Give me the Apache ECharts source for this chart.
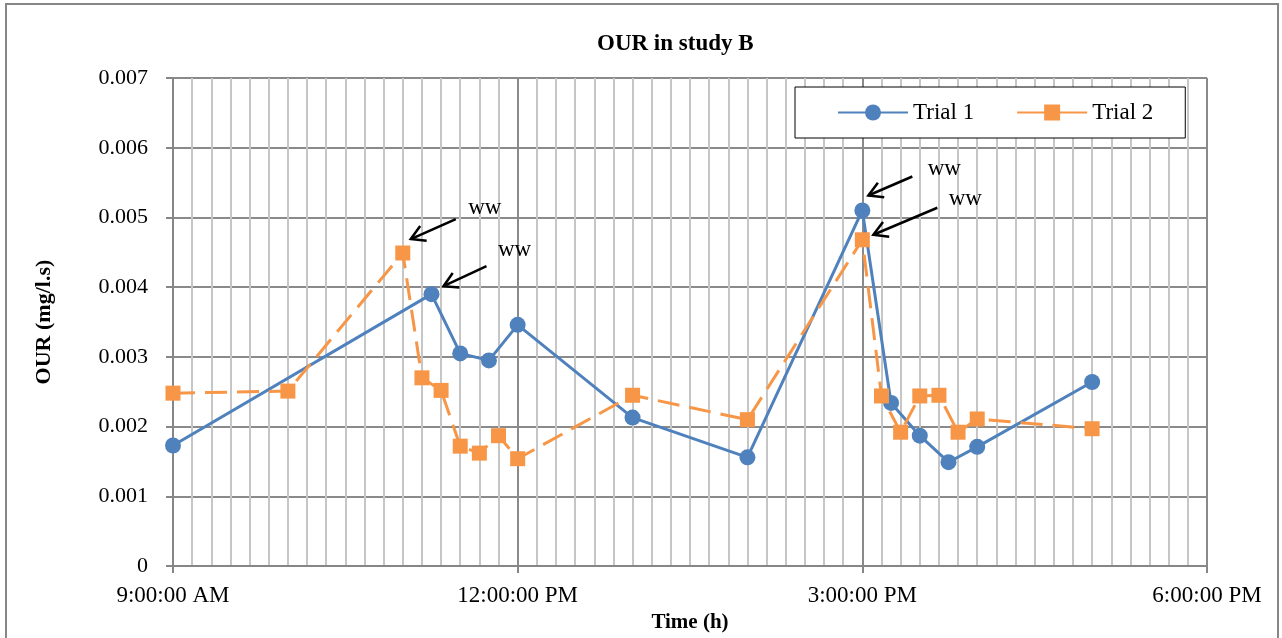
<!DOCTYPE html>
<html>
<head>
<meta charset="utf-8">
<script src="https://cdn.jsdelivr.net/npm/echarts@6/dist/echarts.min.js"></script>
<style>
html,body{margin:0;padding:0;background:#fff;}
#c{width:1282px;height:638px;}
</style>
</head>
<body>
<div id="c"></div>
<script>
// ---- data ----
const seriesNames = ['Trial 1', 'Trial 2'];
const trial1Times = ['9:00','11:15','11:30','11:45','12:00','13:00','14:00','15:00','15:15','15:30','15:45','16:00','17:00'];
const trial1Values = [0.00173,0.0039,0.00305,0.00295,0.00346,0.00213,0.00156,0.0051,0.00234,0.00187,0.00149,0.00171,0.00264];
const trial2Times = ['9:00','10:00','11:00','11:10','11:20','11:30','11:40','11:50','12:00','13:00','14:00','15:00','15:10','15:20','15:30','15:40','15:50','16:00','17:00'];
const trial2Values = [0.00248,0.00251,0.00449,0.0027,0.00252,0.00172,0.00162,0.00187,0.00154,0.00245,0.0021,0.00468,0.00244,0.00192,0.00244,0.00245,0.00192,0.00211,0.00197];
const xTickLabels = ['9:00:00 AM','12:00:00 PM','3:00:00 PM','6:00:00 PM'];
const yTickLabels = ['0','0.001','0.002','0.003','0.004','0.005','0.006','0.007'];
const annotationTexts = ['ww','ww','ww','ww'];
const annotationTargets = [[1,2],[0,1],[0,7],[1,11]]; // [series, point index]

// ---- styling (annotation offsets in px relative to the marked point) ----
const annotationOffsets = [
  {head:[8,-14], tail:[53,-34], text:[82,-45]},
  {head:[12,-8], tail:[55,-28], text:[83,-44]},
  {head:[6,-15], tail:[50,-34], text:[82,-42]},
  {head:[11,-5], tail:[75,-32], text:[103,-41]}
];

const FONT = '"Liberation Serif","Times New Roman",serif';
function toMin(s){ const p = s.split(':').map(Number); return p[0]*60 + p[1]; }
const s1 = trial1Times.map((t,i)=>[toMin(t), trial1Values[i]]);
const s2 = trial2Times.map((t,i)=>[toMin(t), trial2Values[i]]);
const allData = [s1, s2];

const chart = echarts.init(document.getElementById('c'), null, {renderer:'canvas'});
const option = {
  backgroundColor: '#ffffff',
  animation: false,
  title: {
    text: 'OUR in study B',
    left: 592, top: 28,
    textStyle: {fontFamily: FONT, fontWeight: 'bold', fontSize: 23, color: '#000'}
  },
  legend: {
    left: 795, top: 87,
    orient: 'horizontal',
    backgroundColor: '#fff',
    borderColor: '#000',
    borderWidth: 1,
    padding: [14, 32, 14, 42],
    itemGap: 42,
    itemWidth: 70,
    itemHeight: 20,
    lineStyle: {type: 'solid'},
    textStyle: {fontFamily: FONT, fontSize: 23, color: '#000'},
    data: seriesNames
  },
  grid: {left: 173, right: 75, top: 78, bottom: 66, containLabel: false},
  xAxis: {
    type: 'value',
    min: 540, max: 1080, interval: 180,
    name: 'Time (h)',
    nameLocation: 'middle',
    nameGap: 43,
    nameTextStyle: {fontFamily: FONT, fontWeight: 'bold', fontSize: 21, color: '#000'},
    axisLine: {show: true, onZero: false, lineStyle: {color: '#868686', width: 2}},
    axisTick: {show: true, length: 7, lineStyle: {color: '#868686', width: 2}},
    minorTick: {show: false, splitNumber: 18},
    minorSplitLine: {show: true, lineStyle: {color: '#C6C6C6', width: 2}},
    splitLine: {show: true, lineStyle: {color: '#8A8A8A', width: 2}},
    axisLabel: {
      margin: 18,
      fontFamily: FONT, fontSize: 23, color: '#000',
      formatter: v => xTickLabels[Math.round((v-540)/180)] || ''
    }
  },
  yAxis: {
    type: 'value',
    min: 0, max: 0.007, interval: 0.001,
    name: 'OUR (mg/l.s)',
    nameLocation: 'middle',
    nameRotate: 90,
    nameGap: 118,
    nameTextStyle: {fontFamily: FONT, fontWeight: 'bold', fontSize: 22, color: '#000'},
    axisLine: {show: true, lineStyle: {color: '#868686', width: 2}},
    axisTick: {show: true, inside: false, length: 7, lineStyle: {color: '#868686', width: 2}},
    splitLine: {show: true, lineStyle: {color: '#8A8A8A', width: 2}},
    axisLabel: {
      margin: 25,
      fontFamily: FONT, fontSize: 22, color: '#000',
      formatter: v => yTickLabels[Math.round(v/0.001)] || ''
    }
  },
  series: [
    {
      name: seriesNames[0], type: 'line', data: s1,
      symbol: 'circle', symbolSize: 16,
      lineStyle: {color: '#4F81BD', width: 3},
      itemStyle: {color: '#4F81BD'},
      z: 3
    },
    {
      name: seriesNames[1], type: 'line', data: s2,
      symbol: 'rect', symbolSize: 15,
      lineStyle: {color: '#F79646', width: 3, type: [22, 10]},
      itemStyle: {color: '#F79646'},
      z: 4
    }
  ],
  graphic: []
};
chart.setOption(option);

// ---- annotations anchored to data points via the chart's own scales ----
const g = [{
  type: 'rect', silent: true, z: 0,
  shape: {x: 6, y: 4, width: 1272, height: 650},
  style: {fill: 'none', stroke: '#878787', lineWidth: 2}
}];
annotationTargets.forEach((tg, k) => {
  const pt = allData[tg[0]][tg[1]];
  const p = chart.convertToPixel({gridIndex: 0}, pt);
  const o = annotationOffsets[k];
  const hx = p[0] + o.head[0], hy = p[1] + o.head[1];
  const tx = p[0] + o.tail[0], ty = p[1] + o.tail[1];
  const ang = Math.atan2(hy - ty, hx - tx);
  const L = 16, a = Math.PI / 6;
  const w1 = [hx - L*Math.cos(ang - a), hy - L*Math.sin(ang - a)];
  const w2 = [hx - L*Math.cos(ang + a), hy - L*Math.sin(ang + a)];
  g.push({type: 'line', z: 100, silent: true,
    shape: {x1: tx, y1: ty, x2: hx, y2: hy},
    style: {stroke: '#000', lineWidth: 2.5}});
  g.push({type: 'polyline', z: 100, silent: true,
    shape: {points: [w1, [hx, hy], w2]},
    style: {stroke: '#000', lineWidth: 2.5, fill: 'none'}});
  g.push({type: 'text', z: 100, silent: true,
    x: p[0] + o.text[0], y: p[1] + o.text[1],
    style: {text: annotationTexts[k], fontFamily: FONT, fontSize: 23, fill: '#000',
      textAlign: 'center', textVerticalAlign: 'middle'}});
});
chart.setOption({graphic: g});
</script>
</body>
</html>
